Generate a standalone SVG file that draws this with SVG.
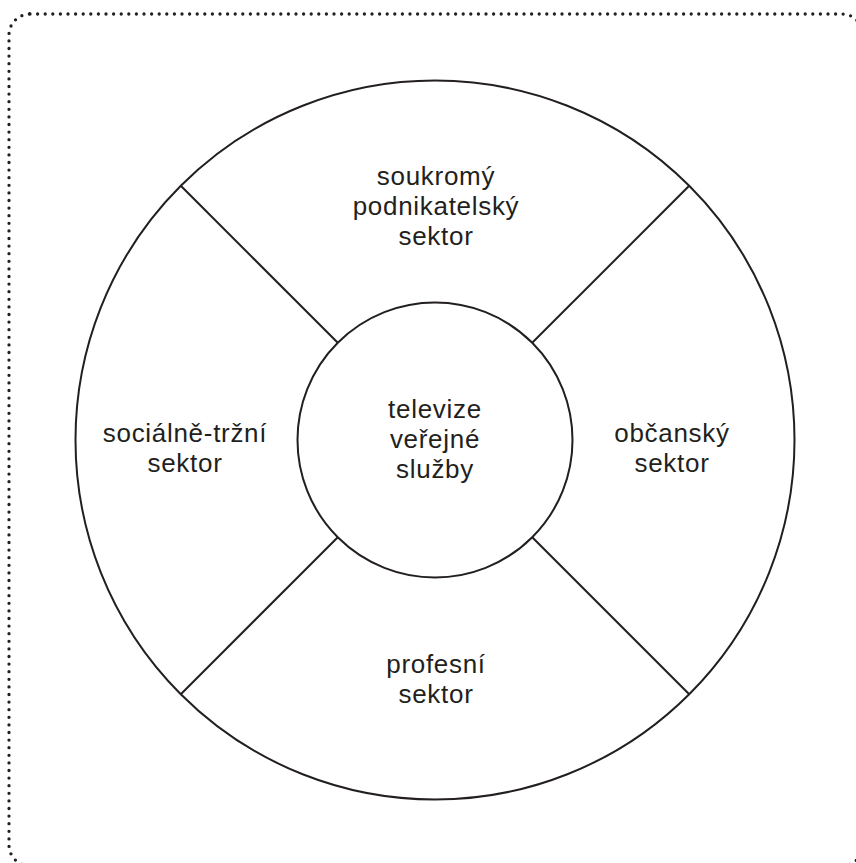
<svg xmlns="http://www.w3.org/2000/svg" width="856" height="863" viewBox="0 0 856 863">
<style>
.ring{fill:none;stroke:#231f20;stroke-width:2}
.sep{stroke:#231f20;stroke-width:2}
.lbl{font-family:"Liberation Sans","Open Sans",sans-serif;font-size:26px;letter-spacing:0.7px;fill:#231f20;text-anchor:middle}
.frame{fill:none;stroke:#231f20;stroke-width:3.3;stroke-linecap:round;stroke-dasharray:0 7.6}
</style>
<rect width="856" height="863" fill="#ffffff"/>
<rect class="frame" x="9" y="14" width="854" height="852" rx="21" ry="21"/>
<g id="outer">
<circle class="ring" cx="435" cy="440" r="359.5"/>
</g>
<g id="connectors">
<line class="sep" x1="180.8" y1="185.8" x2="337.8" y2="342.8"/>
<line class="sep" x1="689.2" y1="185.8" x2="532.2" y2="342.8"/>
<line class="sep" x1="180.8" y1="694.2" x2="337.8" y2="537.2"/>
<line class="sep" x1="689.2" y1="694.2" x2="532.2" y2="537.2"/>
</g>
<g id="center">
<circle class="ring" cx="435" cy="440" r="137.5"/>
<text class="lbl" x="435" y="418">televize</text>
<text class="lbl" x="435" y="448">veřejné</text>
<text class="lbl" x="435" y="478">služby</text>
</g>
<g id="top">
<text class="lbl" x="436" y="185">soukromý</text>
<text class="lbl" x="436" y="215">podnikatelský</text>
<text class="lbl" x="436" y="245">sektor</text>
</g>
<g id="left">
<text class="lbl" x="185" y="442">sociálně-tržní</text>
<text class="lbl" x="185" y="472">sektor</text>
</g>
<g id="right">
<text class="lbl" x="672" y="442">občanský</text>
<text class="lbl" x="672" y="472">sektor</text>
</g>
<g id="bottom">
<text class="lbl" x="436" y="673">profesní</text>
<text class="lbl" x="436" y="703">sektor</text>
</g>
</svg>
